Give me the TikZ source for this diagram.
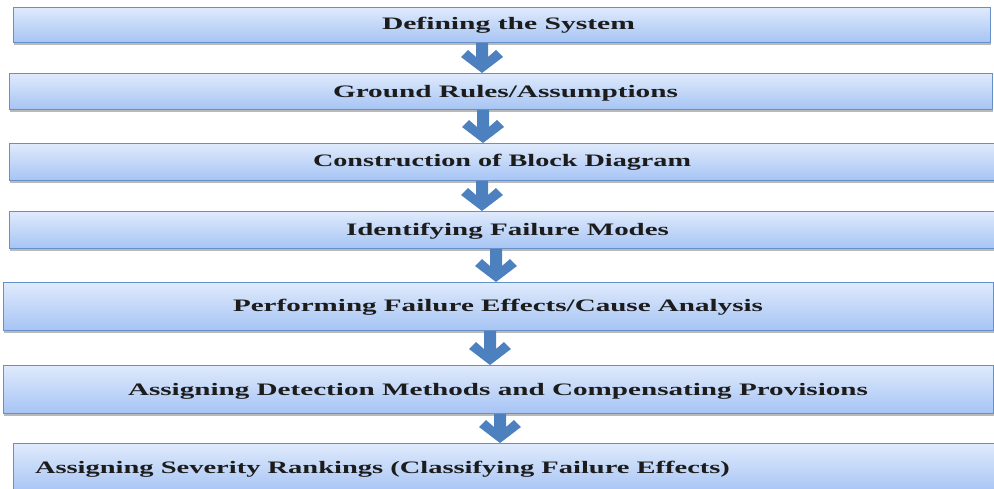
\documentclass[tikz,border=0pt]{standalone}
\usepackage{fontspec}
\setmainfont{Liberation Serif}
\usepackage{graphicx}
\usetikzlibrary{calc,shadows}
\definecolor{boxtop}{HTML}{DFEAFC}
\definecolor{boxbot}{HTML}{A6C4F4}
\definecolor{boxline}{HTML}{6890C8}
\definecolor{arrowfill}{HTML}{4C80BE}
\definecolor{txt}{HTML}{1C1C1C}
\newsavebox\stbox
\newcommand\stretchtext[2]{\sbox\stbox{#2}\pgfmathsetmacro\stfactor{#1/\the\wd\stbox}\scalebox{\stfactor}[1]{\usebox\stbox}}
\newcommand\flowarrow[3]{\fill[arrowfill] let \p1=(#1.south -| #3), \p2=(#2.north -| #3) in
  (\x1-6pt,\y1) -- (\x1+6pt,\y1) -- (\x1+6pt,\y2+16pt) -- (\x1+14pt,\y2+23pt) -- (\x1+21pt,\y2+16pt)
  -- (\x1,\y2) -- (\x1-21pt,\y2+16pt) -- (\x1-14pt,\y2+23pt) -- (\x1-6pt,\y2+16pt) -- cycle;}
\tikzset{
  box/.style={draw=boxline, line width=1.1pt, top color=boxtop, bottom color=boxbot,
    drop shadow={shadow xshift=0.5pt, shadow yshift=-2.2pt, fill=black!50, opacity=0.55},
    inner sep=0pt, anchor=north west},
  lbl/.style={font=\bfseries\fontsize{17.5}{20}\selectfont, text=txt, inner sep=0pt, anchor=base}
}
\begin{document}
\begin{tikzpicture}[x=1pt,y=-1pt]
\useasboundingbox (0,0) rectangle (994,488);
% boxes
\node[box, minimum width=977pt, minimum height=35pt] (b1) at (13,7) {};
\node[box, minimum width=983pt, minimum height=36pt] (b2) at (9,73) {};
\node[box, minimum width=990pt, minimum height=37pt] (b3) at (9,143) {};
\node[box, minimum width=990pt, minimum height=37pt] (b4) at (9,211) {};
\node[box, minimum width=990pt, minimum height=48pt] (b5) at (3,282) {};
\node[box, minimum width=990pt, minimum height=48pt] (b6) at (3,365) {};
\node[box, minimum width=990pt, minimum height=49pt] (b7) at (13,443) {};
% labels
\node[lbl] (t1) at (508.5,29) {\stretchtext{253}{Defining the System}};
\node[lbl] (t2) at (505.5,97) {\stretchtext{345}{Ground Rules/Assumptions}};
\node[lbl] (t3) at (502,166) {\stretchtext{378}{Construction of Block Diagram}};
\node[lbl] (t4) at (507.5,235) {\stretchtext{323}{Identifying Failure Modes}};
\node[lbl] (t5) at (498,311) {\stretchtext{530}{Performing Failure Effects/Cause Analysis}};
\node[lbl] (t6) at (498,395) {\stretchtext{740}{Assigning Detection Methods and Compensating Provisions}};
\node[lbl] (t7) at (382.5,473) {\stretchtext{695}{Assigning Severity Rankings (Classifying Failure Effects)}};
% arrow columns
\coordinate (x1) at (482,0);
\coordinate (x2) at (483,0);
\coordinate (x3) at (482,0);
\coordinate (x4) at (496,0);
\coordinate (x5) at (490,0);
\coordinate (x6) at (500,0);
\flowarrow{b1}{b2}{x1}
\flowarrow{b2}{b3}{x2}
\flowarrow{b3}{b4}{x3}
\flowarrow{b4}{b5}{x4}
\flowarrow{b5}{b6}{x5}
\flowarrow{b6}{b7}{x6}
\end{tikzpicture}
\end{document}
